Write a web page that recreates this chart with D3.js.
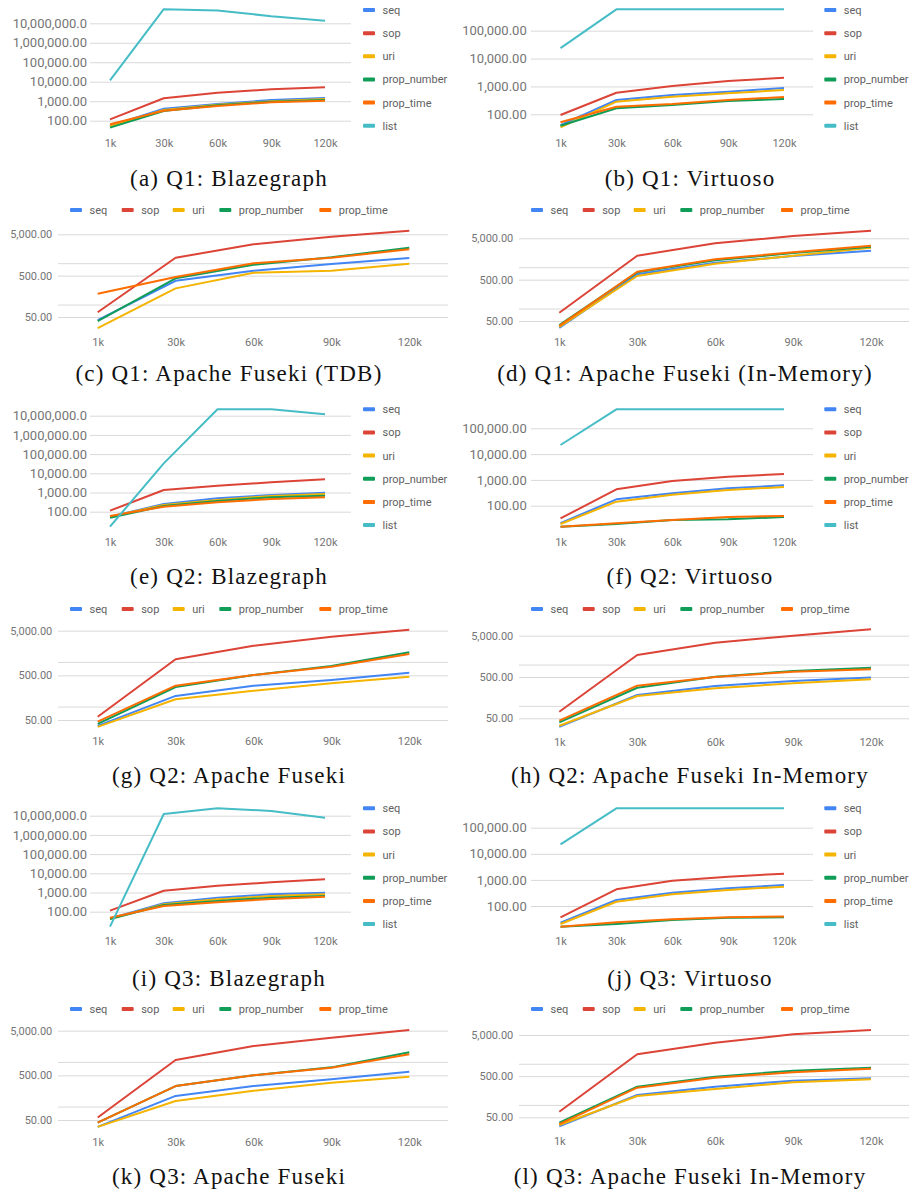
<!DOCTYPE html>
<html>
<head>
<meta charset="utf-8">
<script src="https://cdn.jsdelivr.net/npm/d3@7"></script>
<style>
  body { margin: 0; background: #fff; }
  svg text { font-family: Roboto, Arial, sans-serif; }
</style>
</head>
<body>
<div id="fig"></div>
<script>
const sizes = ['1k', '30k', '60k', '90k', '120k'];
const seriesNames = ['seq', 'sop', 'uri', 'prop_number', 'prop_time', 'list'];
const seriesColors = ['#4285f4', '#db4437', '#f4b400', '#0f9d58', '#ff6d01', '#46bdc6'];

// y tick values / labels
const bigTicks = [100, 1e3, 1e4, 1e5, 1e6, 1e7];
const bigTickLabels = ['100.00', '1,000.00', '10,000.00', '100,000.00', '1,000,000.00', '10,000,000.0'];
const midTicks = [100, 1e3, 1e4, 1e5];
const midTickLabels = ['100.00', '1,000.00', '10,000.00', '100,000.00'];
const smallGrid = [50, 100, 500, 1000, 5000];
const smallTicks = [50, 500, 5000];
const smallTickLabels = ['50.00', '500.00', '5,000.00'];

// one row per series: seq, sop, uri, prop_number, prop_time, (list)
const q1Blazegraph = [
  [53, 413, 720, 1156, 1462],
  [117, 1413, 2736, 4094, 5190],
  [50, 354, 661, 990, 1300],
  [44, 315, 620, 940, 1156],
  [65, 326, 568, 880, 1064],
  [11800, 53e6, 46e6, 23e6, 13.6e6]
];
const q1Virtuoso = [
  [41, 326, 492, 646, 877],
  [94, 594, 1033, 1563, 2050],
  [34, 283, 427, 566, 743],
  [39, 164, 215, 300, 353],
  [52, 187, 234, 326, 417],
  [23600, 585000, 585000, 585000, 585000]
];
const q1FusekiTdb = [
  [42, 376, 657, 955, 1334],
  [65, 1356, 2864, 4375, 6110],
  [27, 246, 588, 657, 970],
  [40, 430, 918, 1390, 2371],
  [182, 462, 993, 1356, 2168]
];
const q1FusekiMem = [
  [34, 673, 1286, 1870, 2506],
  [79, 1897, 3784, 5686, 7640],
  [36, 612, 1215, 1897, 2950],
  [40, 753, 1467, 2200, 3127],
  [38, 778, 1553, 2291, 3314]
];
const q2Blazegraph = [
  [55, 252, 498, 740, 977],
  [113, 1350, 2260, 3390, 4870],
  [55, 223, 407, 660, 835],
  [49, 198, 361, 563, 680],
  [60, 182, 309, 458, 563],
  [16.6, 33000, 21.5e6, 21.5e6, 11.8e6]
];
const q2Virtuoso = [
  [21, 177, 302, 472, 617],
  [32, 432, 906, 1330, 1693],
  [19.5, 143, 267, 406, 531],
  [15.3, 19.5, 28, 29.7, 36.5],
  [15.3, 21, 28, 36.5, 40],
  [22500, 545000, 545000, 545000, 545000]
];
const q2Fuseki = [
  [37, 173, 293, 393, 573],
  [59, 1143, 2307, 3673, 5260],
  [35, 146, 226, 331, 467],
  [41, 274, 509, 809, 1640],
  [46, 293, 509, 781, 1503]
];
const q2FusekiMem = [
  [31, 183, 303, 400, 484],
  [72, 1706, 3380, 5000, 7150],
  [33, 173, 266, 352, 440],
  [40, 275, 508, 698, 840],
  [44, 308, 500, 672, 768]
];
const q3Blazegraph = [
  [45, 275, 537, 800, 977],
  [113, 1241, 2260, 3390, 4870],
  [42, 243, 443, 660, 805],
  [42, 223, 361, 537, 660],
  [49, 198, 309, 458, 605],
  [16.6, 12.3e6, 24.3e6, 17.6e6, 7.9e6]
];
const q3Virtuoso = [
  [23, 170, 323, 476, 638],
  [37, 437, 931, 1327, 1730],
  [20.4, 146, 280, 410, 550],
  [16, 20.4, 29, 35.6, 37],
  [16, 23.7, 31, 37, 40],
  [23100, 553000, 553000, 553000, 553000]
];
const q3Fuseki = [
  [35, 173, 288, 407, 604],
  [57, 1104, 2270, 3480, 5190],
  [35, 133, 226, 342, 467],
  [43.5, 288, 500, 755, 1640],
  [43.5, 288, 500, 741, 1480]
];
const q3FusekiMem = [
  [30, 174, 277, 388, 444],
  [68, 1700, 3250, 5200, 6610],
  [32.5, 165, 244, 354, 419],
  [37, 277, 485, 678, 802],
  [34, 262, 458, 620, 758]
];

// layouts of the four kinds of sub chart (panel coords)
const wideLeft = { yLabelX: 87, yFont: 13, gridX: [90, 351], xRange: [110, 325], legend: 'right', legendX: 363 };
const wideRight = { yLabelX: 70.7, yFont: 13, gridX: [75, 357], xRange: [104.5, 328], legend: 'right', legendX: 368.3 };
const topLeft = { yLabelX: 52.3, yFont: 11, gridX: [58, 448], xRange: [97.7, 409.3], legend: 'top', legendX: [70, 121.7, 172.7, 219.3, 319.3] };
const topRight = { yLabelX: 57.3, yFont: 11, gridX: [63, 453], xRange: [103.3, 415], legend: 'top', legendX: [75, 126.7, 177.7, 224.3, 325] };

const panels = [
  { ox: 0, oy: 0, L: wideLeft, data: q1Blazegraph, grid: bigTicks, ticks: bigTicks, labels: bigTickLabels,
    anchor: [100, 120.7, 1e7, 23.3], legendY: 10, xLabelY: 146.5, cap: '(a) Q1: Blazegraph', capX: 229, capY: 186 },
  { ox: 456, oy: 0, L: wideRight, data: q1Virtuoso, grid: midTicks, ticks: midTicks, labels: midTickLabels,
    anchor: [100, 114.3, 1e5, 30.7], legendY: 10, xLabelY: 146.5, cap: '(b) Q1: Virtuoso', capX: 690, capY: 186 },
  { ox: 0, oy: 195, L: topLeft, data: q1FusekiTdb, grid: smallGrid, ticks: smallTicks, labels: smallTickLabels,
    anchor: [50, 122, 5000, 39.3], legendY: 15, xLabelY: 150.7, cap: '(c) Q1: Apache Fuseki (TDB)', capX: 229, capY: 381 },
  { ox: 456, oy: 195, L: topRight, data: q1FusekiMem, grid: smallGrid, ticks: smallTicks, labels: smallTickLabels,
    anchor: [50, 126, 5000, 43.3], legendY: 15, xLabelY: 150.7, cap: '(d) Q1: Apache Fuseki (In-Memory)', capX: 685, capY: 381 },
  { ox: 0, oy: 390, L: wideLeft, data: q2Blazegraph, grid: bigTicks, ticks: bigTicks, labels: bigTickLabels,
    anchor: [100, 121.7, 1e7, 25.7], legendY: 19.3, xLabelY: 155.7, cap: '(e) Q2: Blazegraph', capX: 229, capY: 584 },
  { ox: 456, oy: 390, L: wideRight, data: q2Virtuoso, grid: midTicks, ticks: midTicks, labels: midTickLabels,
    anchor: [100, 115.7, 1e5, 38.3], legendY: 19.3, xLabelY: 155.7, cap: '(f) Q2: Virtuoso', capX: 690, capY: 584 },
  { ox: 0, oy: 595, L: topLeft, data: q2Fuseki, grid: smallGrid, ticks: smallTicks, labels: smallTickLabels,
    anchor: [50, 125, 5000, 35.7], legendY: 14, xLabelY: 150, cap: '(g) Q2: Apache Fuseki', capX: 229, capY: 783 },
  { ox: 456, oy: 595, L: topRight, data: q2FusekiMem, grid: smallGrid, ticks: smallTicks, labels: smallTickLabels,
    anchor: [50, 123.3, 5000, 40.7], legendY: 14, xLabelY: 150.7, cap: '(h) Q2: Apache Fuseki In-Memory', capX: 690, capY: 783 },
  { ox: 0, oy: 790, L: wideLeft, data: q3Blazegraph, grid: bigTicks, ticks: bigTicks, labels: bigTickLabels,
    anchor: [100, 121.7, 1e7, 25.7], legendY: 18.3, xLabelY: 155, cap: '(i) Q3: Blazegraph', capX: 229, capY: 986 },
  { ox: 456, oy: 790, L: wideRight, data: q3Virtuoso, grid: midTicks, ticks: midTicks, labels: midTickLabels,
    anchor: [100, 116, 1e5, 37.7], legendY: 18.3, xLabelY: 155, cap: '(j) Q3: Virtuoso', capX: 690, capY: 986 },
  { ox: 0, oy: 990, L: topLeft, data: q3Fuseki, grid: smallGrid, ticks: smallTicks, labels: smallTickLabels,
    anchor: [50, 130, 5000, 40.7], legendY: 19, xLabelY: 155.7, cap: '(k) Q3: Apache Fuseki', capX: 229, capY: 1184 },
  { ox: 456, oy: 990, L: topRight, data: q3FusekiMem, grid: smallGrid, ticks: smallTicks, labels: smallTickLabels,
    anchor: [50, 127.3, 5000, 45], legendY: 19, xLabelY: 155, cap: '(l) Q3: Apache Fuseki In-Memory', capX: 690, capY: 1184 }
];

var svg = d3.select('#fig')
  .append('svg')
  .attr('width', 912)
  .attr('height', 1195);

panels.forEach(p => {
  var L = p.L;
  var g = svg.append('g').attr('transform', 'translate(' + p.ox + ',' + p.oy + ')');

  var y = d3.scaleLog()
    .domain([p.anchor[0], p.anchor[2]])
    .range([p.anchor[1], p.anchor[3]]);
  var x = d3.scalePoint().domain(sizes).range(L.xRange);

  // gridlines
  g.append('g')
    .attr('transform', 'translate(' + L.gridX[0] + ',0)')
    .call(d3.axisRight(y).tickValues(p.grid).tickSize(L.gridX[1] - L.gridX[0]).tickFormat(''))
    .call(a => a.select('.domain').remove())
    .selectAll('line').attr('stroke', '#d9d9d9');

  // y labels
  g.append('g')
    .attr('transform', 'translate(' + L.yLabelX + ',0)')
    .call(d3.axisLeft(y).tickValues(p.ticks).tickSize(0).tickPadding(0)
      .tickFormat((d, i) => p.labels[i]))
    .call(a => a.select('.domain').remove())
    .selectAll('text')
    .attr('font-family', 'Roboto, Arial, sans-serif')
    .attr('font-size', L.yFont)
    .attr('fill', '#757575');

  // x labels
  g.append('g')
    .attr('transform', 'translate(0,' + (p.xLabelY - 7.8) + ')')
    .call(d3.axisBottom(x).tickSize(0).tickPadding(0))
    .call(a => a.select('.domain').remove())
    .selectAll('text')
    .attr('font-family', 'Roboto, Arial, sans-serif')
    .attr('font-size', 11)
    .attr('fill', '#757575');

  // lines
  var line = d3.line()
    .x((d, j) => x(sizes[j]))
    .y(d => y(d));

  p.data.forEach((vals, i) => {
    g.append('path')
      .datum(vals)
      .attr('d', line)
      .attr('fill', 'none')
      .attr('stroke', seriesColors[i])
      .attr('stroke-width', 2)
      .attr('stroke-linejoin', 'round');
  });

  // legend
  p.data.forEach((vals, i) => {
    var lx, ly;
    if (L.legend === 'right') {
      lx = L.legendX;
      ly = p.legendY + i * 23.15;
    } else {
      lx = L.legendX[i];
      ly = p.legendY;
    }
    g.append('rect')
      .attr('x', lx).attr('y', ly - 2)
      .attr('width', 12).attr('height', 4)
      .attr('rx', 1)
      .attr('fill', seriesColors[i]);
    g.append('text')
      .attr('x', lx + 19.5)
      .attr('y', ly + 4)
      .attr('font-size', 11)
      .attr('fill', '#5f5f5f')
      .text(seriesNames[i]);
  });

  // caption
  svg.append('text')
    .attr('x', p.capX)
    .attr('y', p.capY)
    .attr('text-anchor', 'middle')
    .style('font-family', '"Liberation Serif", "Times New Roman", serif')
    .style('font-size', '23px')
    .style('letter-spacing', '1.2px')
    .attr('fill', '#111')
    .text(p.cap);
});
</script>
</body>
</html>
